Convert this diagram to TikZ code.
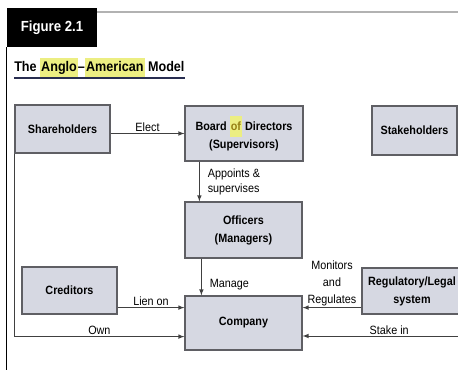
\documentclass[tikz,border=0pt]{standalone}
\usepackage{fontspec}
\setmainfont{Liberation Sans}[FakeStretch=0.9]
\usetikzlibrary{arrows,positioning,calc}

\definecolor{boxfill}{RGB}{214,216,226}
\definecolor{boxline}{RGB}{95,95,100}
\definecolor{hly}{RGB}{236,238,130}
\definecolor{ofc}{RGB}{150,128,20}
\definecolor{ulin}{RGB}{40,45,80}
\newcommand{\hlt}[1]{{\setlength{\fboxsep}{0.8pt}\colorbox{hly}{\strut #1}}}

\begin{document}
\begin{tikzpicture}[x=0.75pt,y=-0.75pt,
    box/.style={draw=boxline,fill=boxfill,line width=0.9pt,inner sep=0pt,
      align=center,font=\fontsize{9}{13.5}\selectfont\bfseries},
    arr/.style={-latex,draw=black!75,line width=0.6pt},
    lbl/.style={inner sep=1pt,font=\fontsize{9}{11}\selectfont}]
      \useasboundingbox (0,0) rectangle (458,391);

      % frame and heading
      \node[fill=black,text=white,minimum width=67.5pt,minimum height=29.25pt,
        font=\fontsize{11}{13}\selectfont\bfseries] (fig) at (52,27.5) {Figure 2.1};
      \draw[gray!60,line width=1pt] (97,12) -- (458,12);
      \draw[line width=1.1pt] (fig.south west) -- ++(0,323);
      \node[anchor=base west,inner sep=0pt,font=\fontsize{10.5}{13}\selectfont\bfseries]
        (ttl) at (14,71.5) {The \hlt{Anglo}--\hlt{American} Model};
      \draw[ulin,line width=1.2pt] (ttl.south west) -- (ttl.south east);

      % boxes
      \node[box,minimum width=71.25pt,minimum height=36pt] (sh) at (62.5,129) {Shareholders};
      \node[box,minimum width=88.5pt,minimum height=41.25pt] (bd) at (244,133.5)
        {Board \hlt{\textcolor{ofc}{of}} Directors\\(Supervisors)};
      \node[box,minimum width=63.75pt,minimum height=36.75pt] (st) at (414.5,130.5) {Stakeholders};
      \node[box,minimum width=87.75pt,minimum height=42pt] (mg) at (243.5,230) {Officers\\(Managers)};
      \node[box,minimum width=87.75pt,minimum height=40.5pt] (co) at (243.5,323) {Company};
      \node[box,minimum width=71.25pt,minimum height=35.25pt] (cr) at (69.5,290.5) {Creditors};
      \node[box,minimum width=75pt,minimum height=34.5pt] (rg) at (412,291) {Regulatory/Legal\\system};

      % connectors
      \draw[arr] (sh.east |- bd.west) -- node[lbl,above] {Elect} (bd.west);

      \coordinate (a1) at ($(bd.south west)+(15,0)$);
      \draw[arr] (a1) -- (a1 |- mg.north)
        node[lbl,midway,right=5pt,align=left,font=\fontsize{9}{11.25}\selectfont] {Appoints \&\\supervises};

      \coordinate (a2) at ($(mg.south west)+(17,0)$);
      \draw[arr] (a2) -- (a2 |- co.north) node[lbl,pos=0.7,right=5pt] {Manage};

      \coordinate (l1) at ($(cr.south east)+(0,-7)$);
      \draw[arr] (l1) -- node[lbl,above] {Lien on} (l1 -| co.west);

      \coordinate (o1) at ($(co.south west)+(0,-14)$);
      \draw[arr] (sh.south west) |- node[lbl,pos=0.75,above] {Own} (o1);

      \coordinate (m1) at ($(rg.south west)+(0,-7)$);
      \draw[arr] (m1) -- node[lbl,above,align=center,font=\fontsize{9}{12.75}\selectfont]
        {Monitors\\and\\Regulates} (m1 -| co.east);

      \coordinate (s1) at (460,336);
      \draw[arr] (s1) -- node[lbl,pos=0.45,above] {Stake in} (s1 -| co.east);
\end{tikzpicture}
\end{document}
